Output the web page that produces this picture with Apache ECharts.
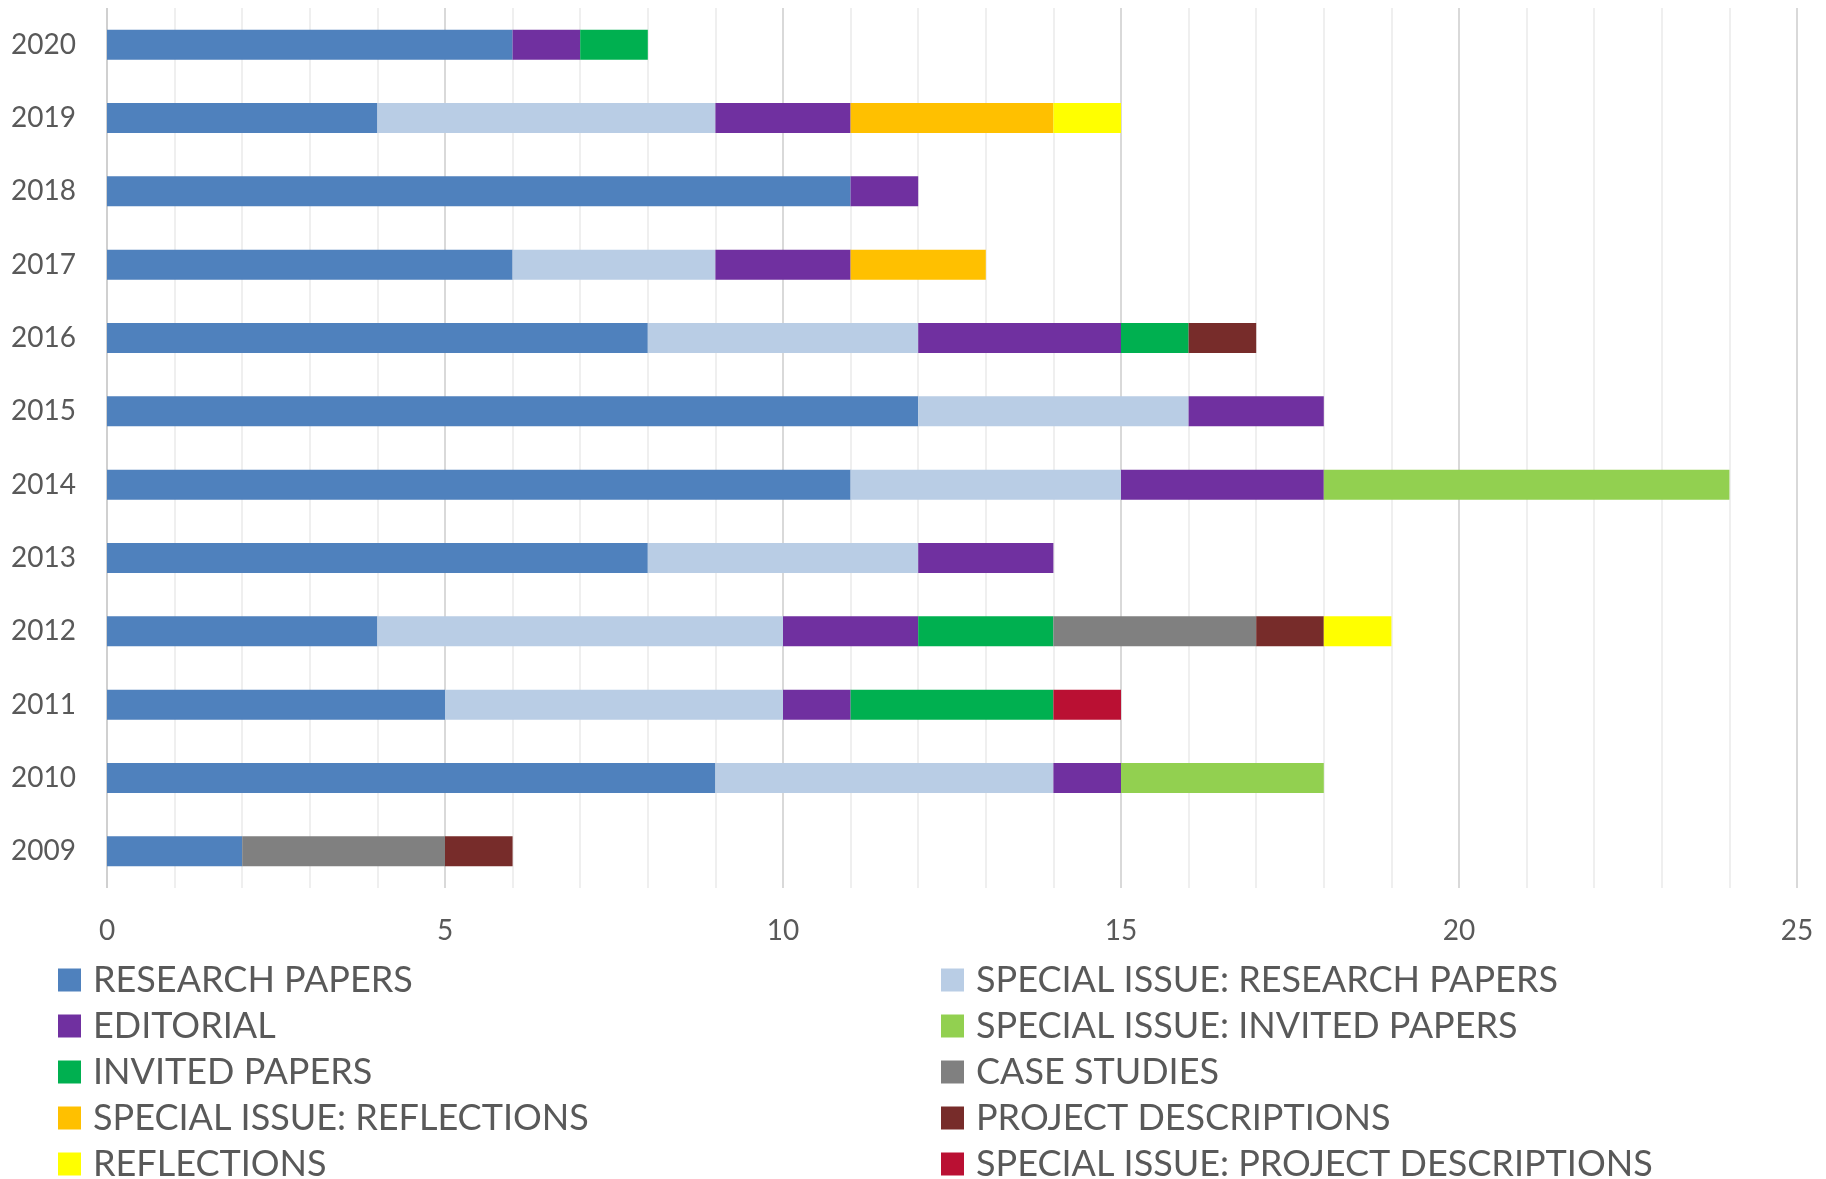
<!DOCTYPE html>
<html>
<head>
<meta charset="utf-8">
<script src="https://cdn.jsdelivr.net/npm/echarts@6/dist/echarts.min.js"></script>
<style>
html,body{margin:0;padding:0;background:#fff;}
#chart{width:1826px;height:1179px;}
</style>
</head>
<body>
<div id="chart"></div>
<script>
const years = ['2009','2010','2011','2012','2013','2014','2015','2016','2017','2018','2019','2020'];
const xTicks = [0,5,10,15,20,25];

const researchPapers     = [2, 9, 5, 4, 8, 11, 12, 8, 6, 11, 4, 6];
const siResearchPapers   = [0, 5, 5, 6, 4, 4, 4, 4, 3, 0, 5, 0];
const editorial          = [0, 1, 1, 2, 2, 3, 2, 3, 2, 1, 2, 1];
const siInvitedPapers    = [0, 3, 0, 0, 0, 6, 0, 0, 0, 0, 0, 0];
const invitedPapers      = [0, 0, 3, 2, 0, 0, 0, 1, 0, 0, 0, 1];
const caseStudies        = [3, 0, 0, 3, 0, 0, 0, 0, 0, 0, 0, 0];
const siReflections      = [0, 0, 0, 0, 0, 0, 0, 0, 2, 0, 3, 0];
const projectDescriptions= [1, 0, 0, 1, 0, 0, 0, 1, 0, 0, 0, 0];
const reflections        = [0, 0, 0, 1, 0, 0, 0, 0, 0, 0, 1, 0];
const siProjectDescr     = [0, 0, 1, 0, 0, 0, 0, 0, 0, 0, 0, 0];

const seriesDefs = [
  ['RESEARCH PAPERS', researchPapers, '#4F81BD'],
  ['SPECIAL ISSUE: RESEARCH PAPERS', siResearchPapers, '#B9CDE5'],
  ['EDITORIAL', editorial, '#7030A0'],
  ['SPECIAL ISSUE: INVITED PAPERS', siInvitedPapers, '#92D050'],
  ['INVITED PAPERS', invitedPapers, '#00B050'],
  ['CASE STUDIES', caseStudies, '#808080'],
  ['SPECIAL ISSUE: REFLECTIONS', siReflections, '#FFC000'],
  ['PROJECT DESCRIPTIONS', projectDescriptions, '#772C2A'],
  ['REFLECTIONS', reflections, '#FFFF00'],
  ['SPECIAL ISSUE: PROJECT DESCRIPTIONS', siProjectDescr, '#BA1033']
];

const FONT = 'Lato';
const chart = echarts.init(document.getElementById('chart'), null, {renderer:'canvas'});

const legendCommon = {
  orient: 'vertical',
  top: 962,
  height: 300,
  padding: 0,
  itemWidth: 23,
  itemHeight: 23,
  itemGap: 10,
  icon: 'rect',
  textStyle: {fontFamily: FONT, fontSize: 36, color: '#595959', padding:[0,0,0,7]},
  selectedMode: false
};

const option = {
  backgroundColor: '#fff',
  animation: false,
  textStyle: {fontFamily: FONT},
  grid: {left: 107, right: 29, top: 8, bottom: 291, containLabel: false},
  legend: [
    Object.assign({}, legendCommon, {left: 58, data: [seriesDefs[0][0], seriesDefs[2][0], seriesDefs[4][0], seriesDefs[6][0], seriesDefs[8][0]]}),
    Object.assign({}, legendCommon, {left: 941, data: [seriesDefs[1][0], seriesDefs[3][0], seriesDefs[5][0], seriesDefs[7][0], seriesDefs[9][0]]})
  ],
  xAxis: {
    type: 'value',
    min: xTicks[0],
    max: xTicks[xTicks.length-1],
    interval: 5,
    axisLine: {show: false},
    axisTick: {show: false},
    axisLabel: {fontFamily: FONT, fontSize: 28, color: '#595959', margin: 29},
    splitLine: {show: true, lineStyle: {color: ['#D0D0D0','#D9D9D9','#D9D9D9','#D9D9D9','#D9D9D9','#D9D9D9'], width: 2}},
    minorTick: {show: false, splitNumber: 5},
    minorSplitLine: {show: true, lineStyle: {color: '#EFEFEF', width: 2}}
  },
  yAxis: {
    type: 'category',
    data: years,
    axisLine: {show: false},
    axisTick: {show: false},
    axisLabel: {fontFamily: FONT, fontSize: 28, color: '#595959', margin: 31}
  },
  series: seriesDefs.map(([name, data, color]) => ({
    name, type: 'bar', stack: 'total', data,
    barWidth: 30,
    itemStyle: {color},
    emphasis: {disabled: true}
  }))
};
chart.setOption(option);
</script>
</body>
</html>
